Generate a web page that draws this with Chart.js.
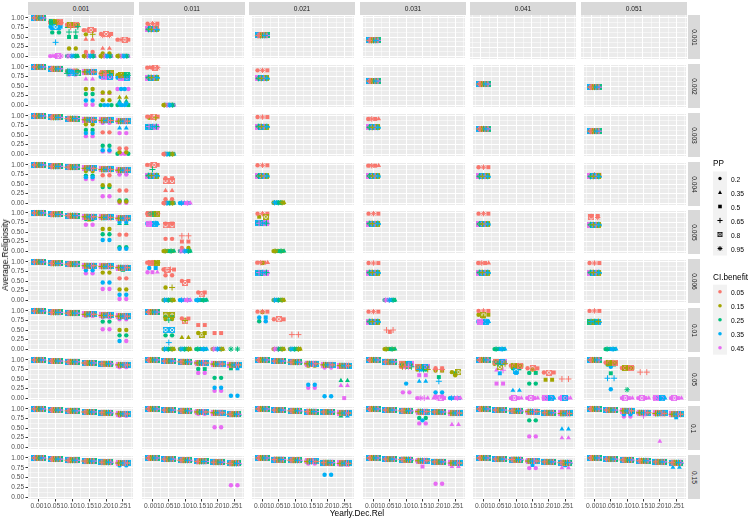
<!DOCTYPE html>
<html><head><meta charset="utf-8">
<script src="https://cdn.jsdelivr.net/npm/chart.js@4/dist/chart.umd.min.js"></script>
<style>
html,body{margin:0;padding:0;background:#fff;}
body{width:750px;height:521px;overflow:hidden;position:relative;font-family:"Liberation Sans",Arial,sans-serif;}
canvas.p{position:absolute;}
.strip{position:absolute;background:#D9D9D9;color:#1A1A1A;font-size:6.6px;display:flex;align-items:center;justify-content:center;white-space:nowrap;}
.rot90{transform:rotate(90deg);}
.txt{position:absolute;white-space:nowrap;color:#000;}
</style></head><body>
<script>
// ---------------- data ----------------
const colFacets = ["0.001","0.011","0.021","0.031","0.041","0.051"];
const rowFacets = ["0.001","0.002","0.003","0.004","0.005","0.006","0.01","0.05","0.1","0.15"];
const xValues = [0.001,0.051,0.101,0.151,0.201,0.251];
const yTicks = [0,0.25,0.5,0.75,1];
const ppLevels = ["0.2","0.35","0.5","0.65","0.8","0.95"];
const ciLevels = ["0.05","0.15","0.25","0.35","0.45"];
const ciColors = ["#F8766D","#A3A500","#00BF7D","#00B0F6","#E76BF3"];
// entries: [facet column, x index, Average.Religiosity, CI.benefit indices, PP indices]
const r0_001 = [
[0,0,1.00,"01234","012345"],[0,1,0.90,"012","0245"],[0,1,0.87,"012","13"],[0,1,0.77,"3","024"],[0,1,0.72,"3","11"],
[0,1,0.62,"2","00"],[0,1,0.36,"3","3"],[0,1,0.00,"4","01245"],
[0,2,0.82,"01","0245"],[0,2,0.77,"20","13"],[0,2,0.63,"2","33"],[0,2,0.50,"2","22"],[0,2,0.20,"1","00"],[0,2,0.00,"234","0125"],
[0,3,0.68,"0","0245"],[0,3,0.57,"1","03"],[0,3,0.44,"0","11"],[0,3,0.11,"0","00"],[0,3,0.00,"1234","0125"],
[0,4,0.58,"0","024"],[0,4,0.54,"0","55"],[0,4,0.20,"0","11"],[0,4,0.07,"1","00"],[0,4,0.00,"1234","0125"],
[0,5,0.43,"0","0245"],[0,5,0.00,"1234","0125"],
[1,0,0.85,"0","025"],[1,0,0.80,"0","14"],[1,0,0.70,"1234","012345"],
[2,0,0.54,"01234","012345"],[3,0,0.41,"01234","012345"]
];
const r0_002 = [
[0,0,1.00,"01234","012345"],[0,1,0.95,"01234","012345"],[0,2,0.89,"01234","0125"],[0,2,0.83,"23","34"],[0,2,0.80,"4","00"],
[0,3,0.87,"01234","02345"],[0,3,0.68,"4","11"],[0,3,0.42,"1","00"],[0,3,0.29,"2","00"],[0,3,0.12,"3","00"],[0,3,0.01,"4","00"],
[0,4,0.83,"012","02345"],[0,4,0.74,"34","0245"],[0,4,0.31,"4","11"],[0,4,0.33,"1","00"],[0,4,0.13,"1","00"],[0,4,0.00,"23","00"],
[0,5,0.78,"12","02345"],[0,5,0.72,"34","0245"],[0,5,0.42,"43","00"],[0,5,0.20,"1","11"],[0,5,0.10,"2","11"],[0,5,0.04,"3","00"],[0,5,0.00,"23","02"],
[1,0,0.98,"0","01245"],[1,0,0.72,"1234","012345"],[1,1,0.00,"1234","0125"],
[2,0,0.91,"0","025"],[2,0,0.70,"1234","012345"],
[3,0,0.63,"01234","012345"],[4,0,0.55,"01234","012345"],[5,0,0.47,"01234","012345"]
];
const r0_003 = [
[0,0,1.00,"01234","012345"],[0,1,0.96,"01234","012345"],[0,2,0.93,"01234","012345"],
[0,3,0.90,"01234","02345"],[0,3,0.78,"1","00"],[0,3,0.63,"2","00"],[0,3,0.55,"3","00"],[0,3,0.47,"4","00"],
[0,4,0.88,"01234","02345"],[0,4,0.82,"4","00"],[0,4,0.57,"0","00"],[0,4,0.22,"2","00"],[0,4,0.10,"3","00"],[0,4,0.07,"4","00"],
[0,5,0.86,"01234","02345"],[0,5,0.68,"3","11"],[0,5,0.55,"4","00"],[0,5,0.15,"0","00"],[0,5,0.05,"1","00"],[0,5,0.01,"24","00"],
[1,0,0.98,"0","0245"],[1,0,0.95,"1","03"],[1,0,0.72,"234","012345"],[1,1,0.00,"0123","0125"],
[2,0,0.97,"0","025"],[2,0,0.72,"1234","012345"],
[3,0,0.92,"0","0125"],[3,0,0.70,"1234","012345"],
[4,0,0.66,"01234","012345"],[5,0,0.60,"01234","012345"]
];
const r0_004 = [
[0,0,1.00,"01234","012345"],[0,1,0.96,"01234","012345"],[0,2,0.94,"01234","012345"],
[0,3,0.91,"01234","02345"],[0,3,0.84,"1","00"],[0,3,0.72,"2","00"],[0,3,0.68,"3","00"],[0,3,0.63,"4","00"],
[0,4,0.88,"01234","02345"],[0,4,0.73,"0","00"],[0,4,0.47,"1","00"],[0,4,0.42,"2","00"],[0,4,0.18,"4","00"],
[0,5,0.86,"01234","02345"],[0,5,0.78,"12","1"],[0,5,0.75,"4","00"],[0,5,0.33,"0","00"],[0,5,0.07,"2","00"],[0,5,0.04,"1","00"],[0,5,0.01,"4","00"],
[1,0,1.00,"0","0245"],[1,0,0.88,"2","3"],[1,0,0.72,"1234","012345"],
[1,1,0.65,"0","02"],[1,1,0.58,"0","44"],[1,1,0.33,"0","11"],[1,1,0.10,"0","00"],[1,1,0.00,"0123","0125"],[1,2,0.00,"34","0125"],
[2,0,0.99,"0","025"],[2,0,0.71,"1234","012345"],[2,1,0.01,"123","0125"],
[3,0,0.98,"0","0125"],[3,0,0.71,"1234","012345"],
[4,0,0.94,"0","025"],[4,0,0.70,"1234","012345"],
[5,0,0.74,"0","025"],[5,0,0.70,"1234","012345"]
];
const r0_005 = [
[0,0,1.00,"01234","012345"],[0,1,0.96,"01234","012345"],[0,2,0.93,"01234","012345"],
[0,3,0.90,"01234","02345"],[0,3,0.84,"2","00"],[0,3,0.81,"1","1"],[0,3,0.69,"4","00"],
[0,4,0.88,"01234","02345"],[0,4,0.58,"1","00"],[0,4,0.44,"2","00"],[0,4,0.29,"3","00"],
[0,5,0.86,"01234","02345"],[0,5,0.76,"3","00"],[0,5,0.72,"2","11"],[0,5,0.43,"0","00"],[0,5,0.10,"2","00"],[0,5,0.06,"3","00"],
[1,0,0.98,"012","01245"],[1,0,0.72,"34","012345"],
[1,1,0.72,"0","02"],[1,1,0.68,"0","44"],[1,1,0.32,"0","00"],[1,1,0.00,"12","0125"],
[1,2,0.40,"0","33"],[1,2,0.25,"0","22"],[1,2,0.08,"01","0"],[1,2,0.00,"234","0125"],
[2,0,0.98,"0","025"],[2,0,0.90,"1","24"],[2,0,0.73,"234","012345"],[2,1,0.00,"12","0125"],
[3,0,0.98,"0","025"],[3,0,0.72,"1234","012345"],
[4,0,0.98,"0","025"],[4,0,0.71,"1234","012345"],
[5,0,0.92,"0","02"],[5,0,0.88,"0","45"],[5,0,0.69,"1234","012345"]
];
const r0_006 = [
[0,0,1.00,"01234","012345"],[0,1,0.96,"01234","012345"],[0,2,0.94,"01234","012345"],
[0,3,0.90,"01234","02345"],[0,3,0.78,"3","00"],[0,3,0.70,"4","00"],
[0,4,0.88,"01234","02345"],[0,4,0.72,"1","00"],[0,4,0.46,"3","00"],[0,4,0.29,"4","00"],
[0,5,0.85,"01234","02345"],[0,5,0.78,"2","1"],[0,5,0.57,"0","00"],[0,5,0.28,"1","00"],[0,5,0.14,"3","00"],[0,5,0.03,"4","00"],
[1,0,0.98,"01","01245"],[1,0,0.84,"3","02"],[1,0,0.73,"4","012"],
[1,1,0.80,"0","0234"],[1,1,0.65,"0","00"],[1,1,0.33,"1","03"],[1,1,0.00,"123","0125"],
[1,2,0.50,"0","02"],[1,2,0.45,"0","4"],[1,2,0.00,"34","0125"],
[1,3,0.20,"0","02"],[1,3,0.15,"0","4"],[1,3,0.00,"32","0125"],
[2,0,0.98,"0","0125"],[2,0,0.97,"1","0"],[2,0,0.72,"234","012345"],[2,1,0.00,"123","0125"],
[3,0,0.97,"0","025"],[3,0,0.72,"1234","012345"],[3,1,0.00,"234","0125"],
[4,0,0.97,"0","0125"],[4,0,0.72,"1234","012345"],
[5,0,0.97,"0","025"],[5,0,0.72,"1234","012345"]
];
const r0_01 = [
[0,0,1.00,"01234","012345"],[0,1,0.96,"01234","012345"],[0,2,0.94,"01234","012345"],
[0,3,0.91,"01234","02345"],[0,3,0.87,"4","00"],
[0,4,0.88,"01234","02345"],[0,4,0.84,"4","02"],[0,4,0.72,"2","00"],[0,4,0.52,"4","00"],
[0,5,0.86,"01234","02345"],[0,5,0.82,"3","00"],[0,5,0.78,"4","00"],[0,5,0.50,"1","00"],[0,5,0.36,"2","00"],[0,5,0.21,"34","0"],
[1,0,0.97,"01234","012345"],
[1,1,0.88,"1","44"],[1,1,0.84,"2","02"],[1,1,0.79,"1","00"],[1,1,0.76,"2","3"],[1,1,0.50,"3","44"],[1,1,0.36,"2","00"],[1,1,0.17,"3","3"],[1,1,0.00,"123","0125"],
[1,2,0.80,"0","02"],[1,2,0.75,"1","3"],[1,2,0.73,"0","4"],[1,2,0.30,"1","11"],[1,2,0.00,"123","0125"],
[1,3,0.63,"0","22"],[1,3,0.42,"1","02"],[1,3,0.38,"1","4"],[1,3,0.00,"23","0125"],
[1,4,0.42,"0","22"],[1,4,0.00,"134","0125"],[1,5,0.00,"2","55"],
[2,0,0.98,"0","025"],[2,0,0.97,"1","0"],[2,0,0.83,"3","02"],[2,0,0.73,"4","11"],[2,0,0.73,"23","0"],
[2,1,0.78,"0","024"],[2,1,0.00,"124","0125"],[2,2,0.38,"0","33"],[2,2,0.00,"123","0125"],
[3,0,0.98,"0","025"],[3,0,0.72,"1234","012345"],[3,1,0.50,"0","33"],[3,1,0.45,"0","2"],[3,1,0.00,"12","0125"],
[4,0,1.00,"0","025"],[4,0,0.90,"1","024"],[4,0,0.84,"1","1"],[4,0,0.72,"34","012345"],[4,1,0.00,"23","0125"],
[5,0,1.00,"0","025"],[5,0,0.72,"123","012345"],[5,1,0.00,"23","0125"]
];
const r0_05 = [
[0,0,1.00,"01234","012345"],[0,1,0.97,"01234","012345"],[0,2,0.95,"01234","012345"],[0,3,0.92,"01234","012345"],[0,4,0.90,"01234","012345"],
[0,5,0.87,"01234","02345"],[0,5,0.81,"4","00"],
[1,0,1.00,"01234","012345"],[1,1,0.97,"01234","012345"],[1,2,0.95,"01234","012345"],
[1,3,0.92,"01234","02345"],[1,3,0.76,"2","02"],[1,3,0.66,"4","00"],
[1,4,0.89,"01234","02345"],[1,4,0.53,"2","00"],[1,4,0.27,"3","00"],[1,4,0.19,"4","00"],
[1,5,0.87,"01234","02345"],[1,5,0.78,"23","2"],[1,5,0.06,"3","00"],
[2,0,1.00,"01234","012345"],[2,1,0.97,"01234","012345"],[2,2,0.94,"01234","012345"],
[2,3,0.90,"01234","02345"],[2,3,0.85,"1","00"],[2,3,0.35,"3","00"],[2,3,0.27,"4","00"],
[2,4,0.87,"01234","02345"],[2,4,0.80,"4","00"],[2,4,0.05,"3","00"],
[2,5,0.85,"01234","02345"],[2,5,0.46,"2","11"],[2,5,0.33,"4","11"],[2,5,0.00,"4","2"],
[3,0,1.00,"01234","012345"],[3,1,0.95,"01234","012345"],[3,1,0.92,"4","0"],
[3,2,0.88,"01234","0245"],[3,2,0.82,"0124","03"],[3,2,0.38,"3","0"],[3,2,0.15,"4","00"],
[3,3,0.82,"01234","0245"],[3,3,0.75,"123","03"],[3,3,0.60,"4","22"],[3,3,0.44,"3","11"],[3,3,0.00,"4","0135"],
[3,4,0.78,"0","02"],[3,4,0.75,"0","33"],[3,4,0.72,"1","02"],[3,4,0.55,"2","2"],[3,4,0.44,"3","3"],[3,4,0.15,"3","00"],[3,4,0.05,"4","00"],[3,4,0.00,"4","1245"],
[3,5,0.68,"1","04"],[3,5,0.65,"2","2"],[3,5,0.60,"1","0"],[3,5,0.00,"34","0125"],
[4,0,1.00,"01234","012345"],
[4,1,0.95,"01234","0245"],[4,1,0.90,"12","03"],[4,1,0.81,"1","4"],[4,1,0.73,"4","13"],[4,1,0.65,"3","2"],[4,1,0.38,"4","22"],
[4,2,0.85,"01","0245"],[4,2,0.78,"2","02"],[4,2,0.72,"3","4"],[4,2,0.66,"3","2"],[4,2,0.20,"3","11"],[4,2,0.00,"4","0124"],
[4,3,0.78,"0","024"],[4,3,0.75,"1","0"],[4,3,0.66,"2","02"],[4,3,0.38,"2","00"],[4,3,0.00,"4","0124"],
[4,4,0.67,"0","024"],[4,4,0.48,"1","22"],[4,4,0.00,"43","0124"],
[4,5,0.50,"0","33"],[4,5,0.00,"4","0124"],[4,5,0.00,"3","4"],
[5,0,1.00,"01234","012345"],
[5,1,0.93,"01","0245"],[5,1,0.88,"2","02"],[5,1,0.82,"3","0"],[5,1,0.65,"2","2"],[5,1,0.52,"3","33"],[5,1,0.23,"3","0"],
[5,2,0.79,"01","0245"],[5,2,0.22,"2","5"],[5,2,0.00,"4","0124"],
[5,3,0.68,"0","33"],[5,3,0.00,"4","0124"],[5,4,0.00,"43","0124"],[5,5,0.00,"4","0124"]
];
const r0_1 = [
[0,0,1.00,"01234","012345"],[0,1,0.97,"01234","012345"],[0,2,0.95,"01234","012345"],[0,3,0.92,"01234","012345"],[0,4,0.90,"01234","012345"],
[0,5,0.87,"01234","02345"],[0,5,0.82,"4","00"],
[1,0,1.00,"01234","012345"],[1,1,0.97,"01234","012345"],[1,2,0.95,"01234","012345"],
[1,3,0.92,"01234","02345"],[1,3,0.87,"4","00"],[1,4,0.90,"01234","02345"],[1,4,0.52,"4","00"],[1,5,0.86,"01234","012345"],
[2,0,1.00,"01234","012345"],[2,1,0.97,"01234","012345"],[2,2,0.95,"01234","012345"],[2,3,0.93,"01234","012345"],[2,4,0.92,"01234","012345"],
[2,5,0.89,"01234","02345"],[2,5,0.81,"23","1"],
[3,0,1.00,"01234","012345"],[3,1,0.97,"01234","012345"],[3,2,0.95,"01234","012345"],
[3,3,0.93,"01234","02345"],[3,3,0.76,"2","00"],[3,3,0.70,"3","0"],[3,3,0.62,"4","00"],
[3,4,0.92,"01234","012345"],[3,5,0.89,"01234","02345"],[3,5,0.59,"4","11"],
[4,0,1.00,"01234","012345"],[4,1,0.97,"01234","012345"],[4,2,0.95,"01234","012345"],
[4,3,0.93,"01234","02345"],[4,3,0.70,"2","00"],[4,3,0.28,"4","00"],
[4,4,0.90,"01234","012345"],[4,5,0.88,"01234","02345"],[4,5,0.47,"3","11"],[4,5,0.24,"4","11"],
[5,0,1.00,"01234","012345"],[5,1,0.97,"01234","012345"],
[5,2,0.95,"01234","02345"],[5,2,0.86,"3","00"],[5,2,0.80,"4","00"],
[5,3,0.90,"01234","02345"],[5,3,0.82,"4","3"],
[5,4,0.88,"01234","02345"],[5,4,0.15,"4","1"],
[5,5,0.86,"01234","02345"],[5,5,0.78,"3","2"]
];
const r0_15 = [
[0,0,1.00,"01234","012345"],[0,1,0.97,"01234","012345"],[0,2,0.94,"01234","012345"],[0,3,0.92,"01234","012345"],[0,4,0.89,"01234","012345"],
[0,5,0.87,"01234","02345"],[0,5,0.81,"3","00"],
[1,0,1.00,"01234","012345"],[1,1,0.97,"01234","012345"],[1,2,0.94,"01234","012345"],[1,3,0.91,"01234","012345"],[1,4,0.89,"01234","012345"],
[1,5,0.86,"01234","012345"],[1,5,0.30,"4","00"],
[2,0,1.00,"01234","012345"],[2,1,0.96,"01234","012345"],[2,2,0.94,"01234","012345"],
[2,3,0.91,"01234","02345"],[2,3,0.86,"4","00"],[2,4,0.88,"01234","012345"],[2,4,0.57,"3","00"],
[2,5,0.86,"01234","02345"],[2,5,0.82,"4","11"],
[3,0,1.00,"01234","012345"],[3,1,0.97,"01234","012345"],[3,2,0.96,"01234","012345"],
[3,3,0.93,"01234","02345"],[3,3,0.78,"4","2"],[3,4,0.90,"01234","012345"],[3,4,0.34,"4","00"],
[3,5,0.87,"01234","02345"],[3,5,0.78,"4","11"],
[4,0,1.00,"01234","012345"],[4,1,0.97,"01234","012345"],[4,2,0.96,"01234","012345"],
[4,3,0.92,"01234","02345"],[4,3,0.82,"3","2"],[4,3,0.74,"4","00"],
[4,4,0.90,"01234","012345"],[4,5,0.88,"01234","012345"],[4,5,0.80,"3","1"],[4,5,0.75,"4","11"],
[5,0,1.00,"01234","012345"],[5,1,0.97,"01234","012345"],[5,2,0.95,"01234","012345"],[5,3,0.93,"01234","012345"],[5,4,0.90,"01234","012345"],
[5,5,0.88,"01234","012345"],[5,5,0.76,"3","11"]
];
const rowData = [r0_001,r0_002,r0_003,r0_004,r0_005,r0_006,r0_01,r0_05,r0_1,r0_15];

// ---------------- layout / style ----------------
const FONT = "'Liberation Sans', Arial, sans-serif";
const PW = 106, PH = 44;
const panelLeft = c => Math.round(28 + c*110.6);
const panelTop = r => Math.round(15 + r*48.85);
const X_MIN = -0.031, X_MAX = 0.281, Y_MIN = -0.05, Y_MAX = 1.05;
const near = (a,b) => Math.abs(a-b) < 1e-6;
const xStep = xValues[1]-xValues[0];
const xBreaks = [xValues[0]-xStep/2];
xValues.forEach(v => { xBreaks.push(v); xBreaks.push(v + xStep/2); });
const yBreaks = [];
yTicks.forEach((v,i) => { yBreaks.push(v); if (i < yTicks.length-1) yBreaks.push((v + yTicks[i+1])/2); });
const isMajX = v => xValues.some(m => near(m,v));
const isMajY = v => yTicks.some(m => near(m,v));

function sqCross(color){
  const cv = document.createElement('canvas'); cv.width = 6; cv.height = 6;
  const g = cv.getContext('2d'); g.strokeStyle = color; g.lineWidth = 0.9;
  g.strokeRect(0.5,0.5,5,5); g.beginPath(); g.moveTo(0.5,0.5); g.lineTo(5.5,5.5); g.moveTo(5.5,0.5); g.lineTo(0.5,5.5); g.stroke();
  return cv;
}
const sqImgs = ciColors.map(sqCross);
function styleFor(s, c){
  const col = ciColors[c];
  switch(s){
    case 0: return {pointStyle:'circle', pointRadius:2.2, pointBackgroundColor:col, pointBorderColor:col, pointBorderWidth:0};
    case 1: return {pointStyle:'triangle', pointRadius:2.8, pointBackgroundColor:col, pointBorderColor:col, pointBorderWidth:0};
    case 2: return {pointStyle:'rect', pointRadius:2.8, pointBackgroundColor:col, pointBorderColor:col, pointBorderWidth:0};
    case 3: return {pointStyle:'cross', pointRadius:3, pointBackgroundColor:col, pointBorderColor:col, pointBorderWidth:1};
    case 4: return {pointStyle:sqImgs[c], pointRadius:3, pointBackgroundColor:col, pointBorderColor:col, pointBorderWidth:0};
    default: return {pointStyle:'star', pointRadius:2.7, pointBackgroundColor:col, pointBorderColor:col, pointBorderWidth:1};
  }
}
const bgPlugin = {id:'panelbg', beforeDraw(chart){
  const {ctx, chartArea:a} = chart; ctx.save(); ctx.fillStyle = '#EBEBEB';
  ctx.fillRect(a.left, a.top, a.right-a.left, a.bottom-a.top); ctx.restore(); }};

function buildDatasets(entries){
  const buckets = {};
  entries.forEach(e => {
    const [col, xi, y, cs, ss] = e;
    const n = cs.length * ss.length;
    const W = n > 1 ? Math.min(0.016, 0.005*n) : 0;
    let k = 0;
    for (const cc of cs) for (const sc of ss) {
      const off = n > 1 ? (((k*11) % n)/(n-1) - 0.5)*2*W : 0;
      const key = cc + '_' + sc;
      (buckets[key] = buckets[key] || []).push({x: xValues[xi] + off, y: y});
      k++;
    }
  });
  const ds = [];
  for (let c = 0; c < ciColors.length; c++) for (let s = 0; s < ppLevels.length; s++) {
    const d = buckets[c + '_' + s]; if (!d) continue;
    // draw shape layers so every colour shows up in the top layer (lower order = drawn later)
    ds.push(Object.assign({data:d, showLine:false, clip:false, order: ((s+3)%6)*10 + ((c*2)%5)}, styleFor(s,c)));
  }
  return ds;
}

function addDiv(cls, text, css){
  const d = document.createElement('div'); d.className = cls;
  if (text !== null) d.textContent = text;
  Object.assign(d.style, css); document.body.appendChild(d); return d;
}

for (let r = 0; r < rowFacets.length; r++) {
  for (let c = 0; c < colFacets.length; c++) {
    const yw = c === 0 ? 28 : 0, xh = r === rowFacets.length-1 ? 15 : 0;
    const showX = xh > 0, showY = yw > 0;
    const cv = document.createElement('canvas'); cv.className = 'p';
    const w = 2 + yw + PW + 4, h = 4 + PH + xh + 4;
    cv.width = w; cv.height = h;
    cv.style.width = w + 'px'; cv.style.height = h + 'px';
    cv.style.left = (panelLeft(c) - yw - 2) + 'px'; cv.style.top = (panelTop(r) - 4) + 'px';
    document.body.appendChild(cv);
    const entries = rowData[r].filter(e => e[0] === c);
    new Chart(cv, {
      type:'scatter',
      data:{datasets: buildDatasets(entries)},
      options:{
        responsive:false, animation:false, devicePixelRatio:1, events:[],
        layout:{padding:{left:2, top:4, right:4, bottom:4}},
        plugins:{legend:{display:false}, tooltip:{enabled:false}},
        scales:{
          x:{type:'linear', position:'bottom', min:X_MIN, max:X_MAX,
            afterBuildTicks: s => { s.ticks = xBreaks.map(v => ({value:v})); },
            afterFit: s => { s.height = xh; s.paddingLeft = 0; s.paddingRight = 0; s.paddingTop = 0; s.paddingBottom = 0; },
            border:{display:false},
            grid:{color:'#FFFFFF', lineWidth: ctx => (ctx.tick && isMajX(ctx.tick.value)) ? 1 : 0.5,
              drawTicks: showX, tickLength:2.5, tickWidth:1,
              tickColor: ctx => (ctx.tick && isMajX(ctx.tick.value)) ? '#333333' : 'rgba(0,0,0,0)'},
            ticks:{display: showX, autoSkip:false, maxRotation:0, minRotation:0, padding:1, color:'#4D4D4D',
              font:{family:FONT, size:6.7}, callback: v => isMajX(v) ? v.toFixed(3) : ''}
          },
          y:{type:'linear', position:'left', min:Y_MIN, max:Y_MAX,
            afterBuildTicks: s => { s.ticks = yBreaks.map(v => ({value:v})); },
            afterFit: s => { s.width = yw; s.paddingLeft = 0; s.paddingRight = 0; s.paddingTop = 0; s.paddingBottom = 0; },
            border:{display:false},
            grid:{color:'#FFFFFF', lineWidth: ctx => (ctx.tick && isMajY(ctx.tick.value)) ? 1 : 0.5,
              drawTicks: showY, tickLength:2.5, tickWidth:1,
              tickColor: ctx => (ctx.tick && isMajY(ctx.tick.value)) ? '#333333' : 'rgba(0,0,0,0)'},
            ticks:{display: showY, autoSkip:false, padding:1.5, color:'#4D4D4D',
              font:{family:FONT, size:6.5}, callback: v => isMajY(v) ? v.toFixed(2) : ''}
          }
        }
      },
      plugins:[bgPlugin]
    });
  }
}

// strips
colFacets.forEach((t,c) => addDiv('strip', t, {left: panelLeft(c)+'px', top:'2px', width: PW+'px', height:'13px'}));
rowFacets.forEach((t,r) => {
  const d = addDiv('strip', null, {left:'688px', top: panelTop(r)+'px', width:'12px', height: PH+'px'});
  const s = document.createElement('span'); s.className = 'rot90'; s.textContent = t; s.style.display = 'inline-block'; d.appendChild(s);
});

// axis titles
addDiv('txt', 'Yearly.Dec.Rel', {left:'357px', top:'513px', fontSize:'8.4px', transform:'translate(-50%,-50%)'});
addDiv('txt', 'Average.Religiosity', {left:'4.5px', top:'255px', fontSize:'8.4px', transform:'translate(-50%,-50%) rotate(-90deg)'});

// legend
const LX = 713;
addDiv('txt', 'PP', {left: LX+'px', top:'163px', fontSize:'8.2px', transform:'translateY(-50%)'});
addDiv('txt', 'CI.benefit', {left: LX+'px', top:'277px', fontSize:'8.2px', transform:'translateY(-50%)'});
const ppY = ppLevels.map((_,i) => 178.5 + i*14);
const ciY = ciLevels.map((_,i) => 291.7 + i*14);
ppLevels.forEach((t,i) => addDiv('txt', t, {left:'731px', top: ppY[i]+'px', fontSize:'6.7px', transform:'translateY(-50%)'}));
ciLevels.forEach((t,i) => addDiv('txt', t, {left:'731px', top: ciY[i]+'px', fontSize:'6.7px', transform:'translateY(-50%)'}));
const lg = document.createElement('canvas'); lg.width = 30; lg.height = 220;
Object.assign(lg.style, {position:'absolute', left:(LX-2)+'px', top:'150px', width:'30px', height:'220px'});
document.body.appendChild(lg);
(function(){
  const g = lg.getContext('2d'); const ox = 2, oy = 150;
  g.fillStyle = '#F2F2F2';
  g.fillRect(ox, ppY[0]-7-oy, 14, 14*ppLevels.length);
  g.fillRect(ox, ciY[0]-7-oy, 14, 14*ciLevels.length);
  const cx = ox + 7;
  ppY.forEach((yy,i) => {
    const y = yy - oy; g.fillStyle = '#000'; g.strokeStyle = '#000'; g.lineWidth = 1;
    g.beginPath();
    if (i === 0) { g.arc(cx, y, 1.7, 0, Math.PI*2); g.fill(); }
    else if (i === 1) { g.moveTo(cx, y-2.2); g.lineTo(cx+2, y+1.4); g.lineTo(cx-2, y+1.4); g.closePath(); g.fill(); }
    else if (i === 2) { g.fillRect(cx-1.8, y-1.8, 3.6, 3.6); }
    else if (i === 3) { g.moveTo(cx-2.6, y); g.lineTo(cx+2.6, y); g.moveTo(cx, y-2.6); g.lineTo(cx, y+2.6); g.stroke(); }
    else if (i === 4) { g.lineWidth = 0.8; g.strokeRect(cx-2, y-2, 4, 4); g.moveTo(cx-2, y-2); g.lineTo(cx+2, y+2); g.moveTo(cx+2, y-2); g.lineTo(cx-2, y+2); g.stroke(); }
    else { g.moveTo(cx-2.4, y); g.lineTo(cx+2.4, y); g.moveTo(cx, y-2.4); g.lineTo(cx, y+2.4);
      g.moveTo(cx-1.7, y-1.7); g.lineTo(cx+1.7, y+1.7); g.moveTo(cx+1.7, y-1.7); g.lineTo(cx-1.7, y+1.7); g.stroke(); }
  });
  ciY.forEach((yy,i) => { g.fillStyle = ciColors[i]; g.beginPath(); g.arc(cx, yy-oy, 1.8, 0, Math.PI*2); g.fill(); });
})();
</script>
</body></html>
